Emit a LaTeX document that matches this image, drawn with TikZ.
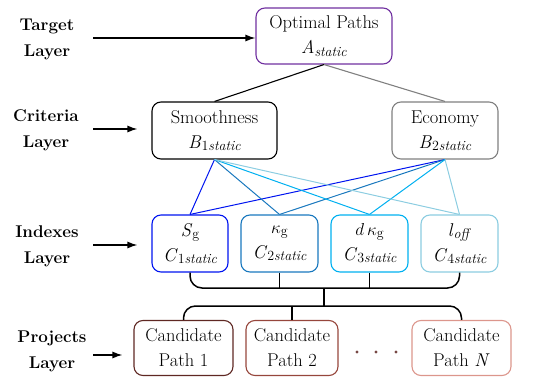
\documentclass[tikz,border=0pt]{standalone}
\usepackage{fontspec}
\usetikzlibrary{arrows.meta}
\definecolor{tgtpurple}{RGB}{112,48,160}
\definecolor{ecogray}{RGB}{128,128,128}
\definecolor{idxA}{RGB}{0,20,240}
\definecolor{idxB}{RGB}{25,120,190}
\definecolor{idxC}{RGB}{0,176,240}
\definecolor{idxD}{RGB}{140,205,225}
\definecolor{prjA}{RGB}{95,40,35}
\definecolor{prjB}{RGB}{150,70,60}
\definecolor{prjC}{RGB}{220,150,140}
\newcommand{\lowsub}[1]{\raisebox{-0.12em}{\fontsize{14}{14}\selectfont #1}}
\begin{document}
\begin{tikzpicture}[x=1pt,y=-1pt,
  box/.style={draw,rounded corners=9pt,line width=1.1pt,align=center,
    inner sep=0pt,font=\fontsize{18.5}{25}\selectfont},
  layerlabel/.style={align=center,font=\fontsize{17}{26}\selectfont\bfseries},
  layerarrow/.style={-{Latex[length=10pt,width=7pt]},line width=1.3pt},
  bracket/.style={line width=1.5pt,rounded corners=12pt}]
\useasboundingbox (0,0) rectangle (547,378);

% target layer
\node[box,draw=tgtpurple,minimum width=136pt,minimum height=56pt] (A) at (324,36)
  {Optimal Paths\\\textit{A}\lowsub{\textit{static}}};
% criteria layer
\node[box,minimum width=125pt,minimum height=57pt] (B1) at (214.5,130.5)
  {Smoothness\\\textit{B}\lowsub{1\textit{static}}};
\node[box,draw=ecogray,minimum width=106pt,minimum height=57pt] (B2) at (445,130.5)
  {Economy\\\textit{B}\lowsub{2\textit{static}}};
% indexes layer
\node[box,draw=idxA,minimum width=76pt,minimum height=57pt] (C1) at (190,243.5)
  {\textit{S}\lowsub{g}\\\textit{C}\lowsub{1\textit{static}}};
\node[box,draw=idxB,minimum width=77pt,minimum height=57pt] (C2) at (279.5,243.5)
  {$\kappa$\lowsub{g}\\\textit{C}\lowsub{2\textit{static}}};
\node[box,draw=idxC,minimum width=77pt,minimum height=57pt] (C3) at (369.5,243.5)
  {$d\,\kappa$\lowsub{g}\\\textit{C}\lowsub{3\textit{static}}};
\node[box,draw=idxD,minimum width=77pt,minimum height=57pt] (C4) at (459.5,243.5)
  {\textit{l}\lowsub{\textit{off}}\\\textit{C}\lowsub{4\textit{static}}};
% projects layer
\node[box,draw=prjA,minimum width=99pt,minimum height=55pt] (P1) at (183.5,348)
  {Candidate\\Path 1};
\node[box,draw=prjB,minimum width=92pt,minimum height=55pt] (P2) at (292,348)
  {Candidate\\Path 2};
\node[box,draw=prjC,minimum width=99pt,minimum height=55pt] (PN) at (461.5,348)
  {Candidate\\Path \textit{N}};
\foreach \dx [count=\i] in {357,376,396}
  \fill[prjA!85] (\dx,352) circle (1.6pt);

% target to criteria
\draw[line width=1.1pt] (A.south) -- (B1.north);
\draw[ecogray,line width=1.1pt] (A.south) -- (B2.north);
% criteria to indexes
\foreach \c/\col in {C1/idxA,C2/idxB,C3/idxC,C4/idxD}{
  \draw[\col,line width=1pt] (B1.south) -- (\c.north);
  \draw[\col,line width=1pt] (B2.south) -- (\c.north);
}

% brackets joining the layers
\coordinate (upL) at (190,288);
\coordinate (upR) at (459.5,288);
\coordinate (upM) at (324,288);
\coordinate (loL) at (183.5,306);
\coordinate (loR) at (461.5,306);
\coordinate (loM) at (324,306);
\draw[bracket] (C1.south) -- (upL) -- (upR) -- (C4.south);
\draw[line width=1.5pt] (C2.south) -- (C2.south |- upL);
\draw[line width=1.5pt] (C3.south) -- (C3.south |- upL);
\draw[line width=2.2pt] (upM) -- (loM);
\draw[bracket] (P1.north) -- (loL) -- (loR) -- (PN.north);
\draw[line width=1.5pt] (P2.north) -- (P2.north |- loL);

% layer labels
\node[layerlabel] (LT) at (47,39) {Target\\Layer};
\node[layerlabel] (LC) at (46,130) {Criteria\\Layer};
\node[layerlabel] (LI) at (47,246) {Indexes\\Layer};
\node[layerlabel] (LP) at (52,351) {Projects\\Layer};
\coordinate (aT) at (93,38);
\coordinate (aC) at (93,129);
\coordinate (aI) at (93,245);
\coordinate (aP) at (93,355);
\draw[layerarrow] (aT) -- (A.west |- aT);
\draw[layerarrow] (aC) -- ([xshift=-14pt]B1.west |- aC);
\draw[layerarrow] (aI) -- ([xshift=-14pt]C1.west |- aI);
\draw[layerarrow] (aP) -- ([xshift=-11pt]P1.west |- aP);
\end{tikzpicture}
\end{document}
